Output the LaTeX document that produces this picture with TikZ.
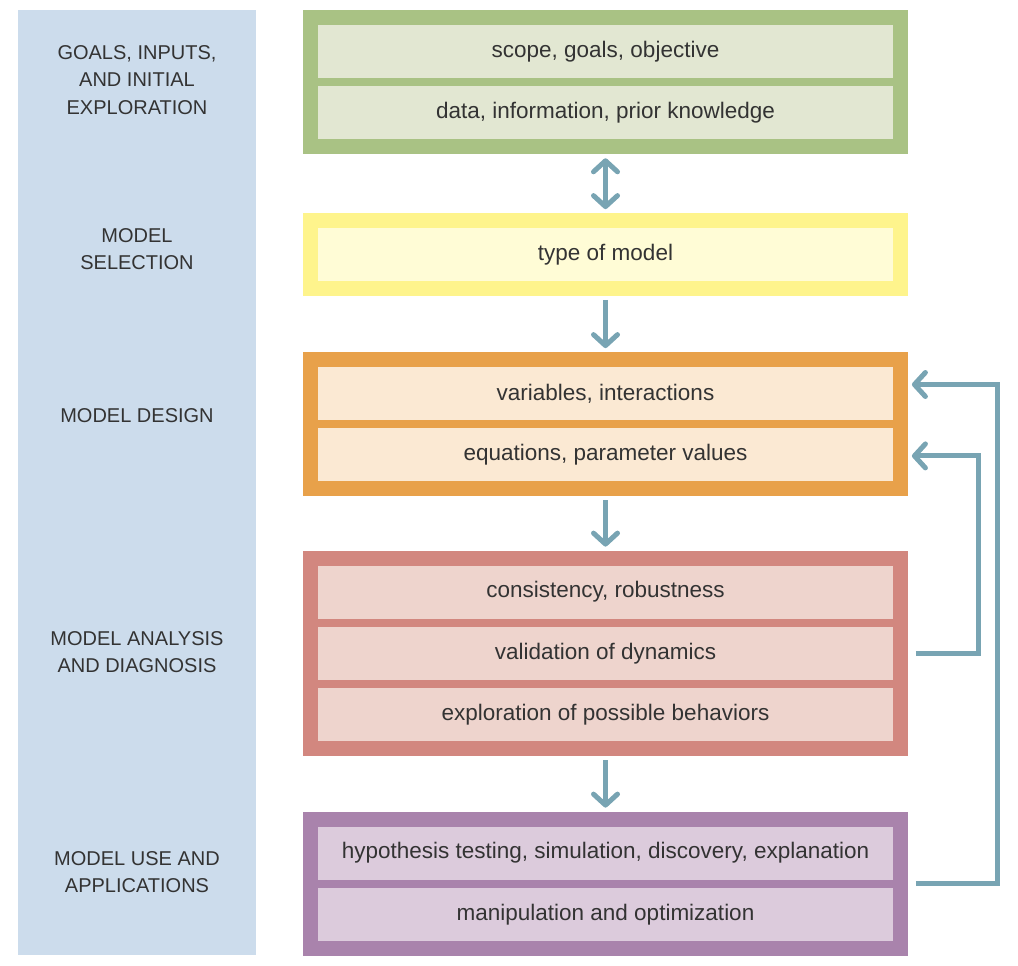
\documentclass[tikz,border=0pt]{standalone}
\usepackage{fontspec}
\setmainfont{Liberation Sans}
\usetikzlibrary{positioning,fit,backgrounds,arrows.meta}

\definecolor{panel}{HTML}{CCDCEC}
\definecolor{ink}{HTML}{333333}
\definecolor{flowblue}{HTML}{78A4B3}
\definecolor{greenout}{HTML}{A9C284}
\definecolor{greenin}{HTML}{E2E7D2}
\definecolor{yellowout}{HTML}{FEF48C}
\definecolor{yellowin}{HTML}{FFFCD6}
\definecolor{orangeout}{HTML}{E8A14A}
\definecolor{orangein}{HTML}{FBE9D3}
\definecolor{redout}{HTML}{D2877F}
\definecolor{redin}{HTML}{EED4CD}
\definecolor{purpleout}{HTML}{A983AC}
\definecolor{purplein}{HTML}{DCCBDC}

\tikzset{
  barb/.tip={Straight Barb[round,length=11pt,width=24pt]},
}

\begin{document}
\begin{tikzpicture}[x=1pt,y=-1pt,
    item/.style={fill=#1,minimum width=575pt,minimum height=53pt,inner sep=0pt,
      text=ink,font=\fontsize{22.5}{27}\selectfont},
    stage/.style={fill=#1,inner sep=14.5pt},
    phase/.style={align=center,text=ink,font=\fontsize{20}{27.5}\selectfont},
    flow/.style={draw=flowblue,line width=5pt,-barb}]
    \useasboundingbox (0,0) rectangle (1018,966);

    % left column
    \node[fill=panel,minimum width=238pt,minimum height=945pt,inner sep=0pt] (panel) at (137,482.5) {};
    \node[phase] (goalslbl) at (137,80)  {GOALS, INPUTS,\\AND INITIAL\\EXPLORATION};
    \node[phase] (sellbl)   at (137,249) {MODEL\\SELECTION};
    \node[phase] (deslbl)   at (137,416) {MODEL DESIGN};
    \node[phase] (analbl)   at (137,652) {MODEL ANALYSIS\\AND DIAGNOSIS};
    \node[phase] (uselbl)   at (137,872) {MODEL USE AND\\APPLICATIONS};

    % stages
    \node[item=greenin]  (scope)   at (605.5,51.5)      {scope, goals, objective};
    \node[item=greenin]  (data)    [below=8pt of scope] {data, information, prior knowledge};
    \node[item=yellowin] (type)    at (605.5,254.5)     {type of model};
    \node[item=orangein] (vars)    at (605.5,393.5)     {variables, interactions};
    \node[item=orangein] (eqns)    [below=8pt of vars]  {equations, parameter values};
    \node[item=redin]    (cons)    at (605.5,592)       {consistency, robustness};
    \node[item=redin]    (valid)   [below=8pt of cons]  {validation of dynamics};
    \node[item=redin]    (explore) [below=8pt of valid] {exploration of possible behaviors};
    \node[item=purplein] (hyp)     at (605.5,853)       {hypothesis testing, simulation, discovery, explanation};
    \node[item=purplein] (manip)   [below=8pt of hyp]   {manipulation and optimization};

    \begin{scope}[on background layer]
      \node[stage=greenout,  fit=(scope)(data)]         (goals)    {};
      \node[stage=yellowout, fit=(type)]                (select)   {};
      \node[stage=orangeout, fit=(vars)(eqns)]          (design)   {};
      \node[stage=redout,    fit=(cons)(explore)]       (analysis) {};
      \node[stage=purpleout, fit=(hyp)(manip)]          (use)      {};
    \end{scope}

    % flow between stages
    \draw[flow,barb-barb,shorten <=4pt,shorten >=4pt] (goals.south) -- (select.north);
    \draw[flow,shorten <=4pt,shorten >=4pt] (select.south) -- (design.north);
    \draw[flow,shorten <=4pt,shorten >=4pt] (design.south) -- (analysis.north);
    \draw[flow,shorten <=4pt,shorten >=4pt] (analysis.south) -- (use.north);

    % feedback loops
    \draw[flow] ([xshift=8pt]analysis.east |- valid.east) -- ++(63,0)
      |- ([xshift=4pt,yshift=-1pt]design.east |- eqns.east);
    \draw[flow] ([xshift=8pt,yshift=-4pt]use.east |- hyp.south) -- ++(82,0)
      |- ([xshift=4pt,yshift=9pt]design.east |- vars.east);
  \end{tikzpicture}
\end{document}
